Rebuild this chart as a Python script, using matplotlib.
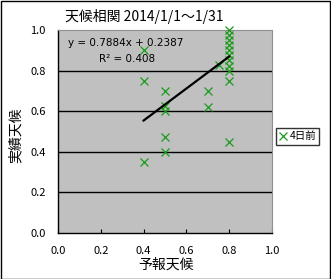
import matplotlib
matplotlib.use("Agg")
import matplotlib.pyplot as plt
from matplotlib.patches import Rectangle
import numpy as np

plt.rcParams['font.family'] = ['Noto Sans CJK JP', 'DejaVu Sans']

# data
forecast = [0.4, 0.4, 0.4,
            0.5, 0.5, 0.5, 0.5, 0.5,
            0.7, 0.7,
            0.75,
            0.8, 0.8, 0.8, 0.8, 0.8, 0.8, 0.8, 0.8, 0.8, 0.8, 0.8]
actual = [0.9, 0.75, 0.35,
          0.7, 0.625, 0.6, 0.475, 0.4,
          0.7, 0.62,
          0.83,
          1.0, 0.975, 0.95, 0.925, 0.9, 0.875, 0.85, 0.825, 0.8, 0.75, 0.45]
slope = 0.7884
intercept = 0.2387
r2 = 0.408
series_name = "4日前"
title = "天候相関 2014/1/1～1/31"
xlabel = "予報天候"
ylabel = "実績天候"
ticks = [0.0, 0.2, 0.4, 0.6, 0.8, 1.0]

W, H = 331, 279
fig = plt.figure(figsize=(W/100, H/100), dpi=100)
fig.patch.set_facecolor('white')
fig.add_artist(Rectangle((0.5/W, 0.5/H), 1 - 1.5/W, 1 - 1.5/H, transform=fig.transFigure,
                         fill=False, edgecolor='black', linewidth=1.0))

ax = fig.add_axes([58/W, 1 - 233/H, (272-58)/W, (233-30)/H])
ax.set_facecolor('#c0c0c0')
ax.set_xlim(0, 1)
ax.set_ylim(0, 1)
ax.set_xticks(ticks)
ax.set_yticks(ticks)
ax.set_xticklabels([f"{t:.1f}" for t in ticks])
ax.set_yticklabels([f"{t:.1f}" for t in ticks])
ax.tick_params(axis='x', direction='in', length=3, width=0.8, color='black', labelsize=8, pad=9)
ax.tick_params(axis='y', length=0, labelsize=8, pad=9)
for v in ticks[1:-1]:
    ax.axhline(v, color='black', linewidth=1.0, zorder=1)
for s in ['left', 'bottom']:
    ax.spines[s].set_color('black')
    ax.spines[s].set_linewidth(1.0)
for s in ['top', 'right']:
    ax.spines[s].set_color('#909090')
    ax.spines[s].set_linewidth(0.8)

ax.plot(forecast, actual, linestyle='none', marker='x', markersize=6,
        markeredgewidth=0.9, color='#1a9a1a', label=series_name, zorder=3, clip_on=False)

xs = np.array([min(forecast), max(forecast)])
ax.plot(xs, slope*xs + intercept, color='black', linewidth=1.6, zorder=4)

ax.text(0.045, 0.935, f"y = {slope}x + {intercept}", fontsize=7.5, transform=ax.transAxes,
        va='center', ha='left', family=['DejaVu Sans'])
ax.text(0.19, 0.855, f"R² = {r2}", fontsize=7.5, transform=ax.transAxes,
        va='center', ha='left', family=['DejaVu Sans'])

fig.text(65/W, 1 - 16/H, title, fontsize=10, ha='left', va='center')
fig.text(166/W, 1 - 265/H, xlabel, fontsize=10, ha='center', va='center')
fig.text(16/W, 1 - 135/H, ylabel, fontsize=10, ha='center', va='center', rotation=90)

leg = fig.legend(loc='center', bbox_to_anchor=(297.5/W, 1 - 136.5/H), frameon=True,
                 fontsize=7.5, handlelength=0.8, handletextpad=0.2, borderpad=0.3,
                 fancybox=False)
leg.get_frame().set_edgecolor('black')
leg.get_frame().set_linewidth(1.0)

fig.savefig('out.png', dpi=100)
